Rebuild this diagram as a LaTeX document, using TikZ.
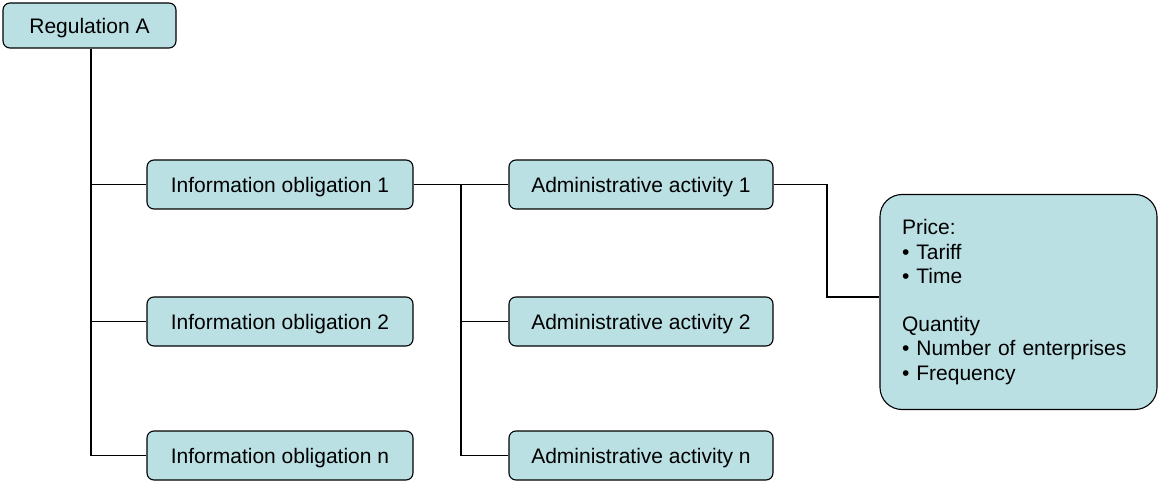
\documentclass[tikz,border=0pt]{standalone}
\usepackage{fontspec}
\setmainfont{Liberation Sans}
\definecolor{boxfill}{RGB}{186,224,228}
\begin{document}
\begin{tikzpicture}[x=1pt,y=-1pt,
  box/.style={draw=black, line width=1.1pt, fill=boxfill, rounded corners=7pt,
    minimum width=266pt, minimum height=49pt, inner sep=0pt,
    font=\fontsize{21}{25}\selectfont},
  small/.style={box, text depth=0pt},
  link/.style={draw=black, line width=1.4pt}]
\useasboundingbox (0,0) rectangle (1160,481);
\node[small, minimum width=173pt, minimum height=45pt] (reg) at (89.5,25.5) {Regulation A};
\node[small] (io1) at (280,184.5) {Information obligation 1};
\node[small] (io2) at (280,321.5) {Information obligation 2};
\node[small] (io3) at (280,455.5) {Information obligation n};
\node[small, minimum width=264pt] (aa1) at (641,184.5) {Administrative activity 1};
\node[small, minimum width=264pt] (aa2) at (641,321.5) {Administrative activity 2};
\node[small, minimum width=264pt] (aa3) at (641,455.5) {Administrative activity n};
\node[box, rounded corners=22pt, minimum width=277pt, minimum height=215pt,
  text width=233pt, align=left, inner xsep=22pt,
  font=\fontsize{21}{24.2}\selectfont] (qp) at (1018.5,302)
  {Price:\\ • Tariff\\ • Time\\[24.2pt] Quantity\\ • Number of enterprises\\ • Frequency};
\coordinate (t1) at (91,0);
\coordinate (t2) at (461,0);
\coordinate (t3) at (827,0);
\draw[link] (reg.south -| t1) -- (t1 |- io3.west) -- (io3.west);
\draw[link] (t1 |- io1.west) -- (io1.west);
\draw[link] (t1 |- io2.west) -- (io2.west);
\draw[link] (io1.east) -- (aa1.west);
\draw[link] (t2 |- io1.east) -- (t2 |- aa3.west) -- (aa3.west);
\draw[link] (t2 |- aa2.west) -- (aa2.west);
\draw[link] (aa1.east) -- (t3 |- aa1.east) -- (t3 |- 0,297) -- (qp.west |- 0,297);
\end{tikzpicture}
\end{document}
